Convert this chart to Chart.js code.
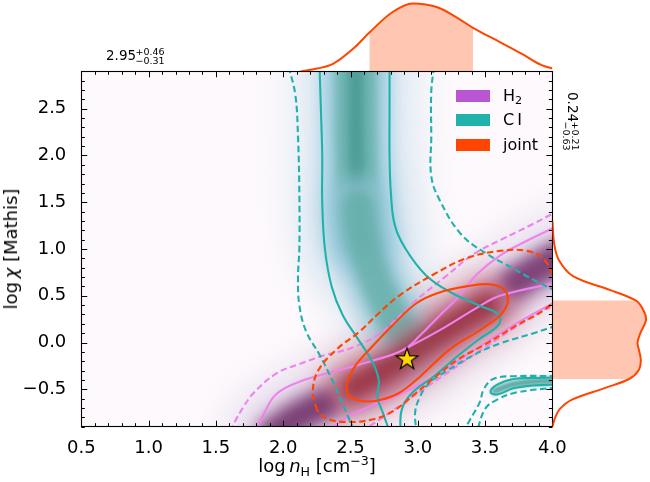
<!DOCTYPE html>
<html>
<head>
<meta charset="utf-8">
<script src="https://cdn.jsdelivr.net/npm/chart.js@4.4.1/dist/chart.umd.min.js"></script>
<style>
  html, body { margin: 0; padding: 0; background: #fff; }
  #wrap { position: relative; width: 650px; height: 482px; overflow: hidden;
          font-family: 'DejaVu Sans', sans-serif; color: #000; }
  .box { position: absolute; }
  .txt { position: absolute; white-space: nowrap; }
  sub { font-size: 70%; vertical-align: -0.28em; line-height: 0; }
  sup { font-size: 70%; vertical-align: 0.55em; line-height: 0; }
  .patch { position: absolute; width: 34px; height: 12px; }
</style>
</head>
<body>
<div id="wrap">
  <div class="box" style="left:0;top:0;width:650px;height:482px"><canvas id="main"></canvas></div>
  <div class="box" style="left:0;top:0;width:650px;height:72px"><canvas id="top"></canvas></div>
  <div class="box" style="left:552px;top:0;width:98px;height:482px"><canvas id="side"></canvas></div>

  <div class="txt" id="xlab" style="left:317px;top:457px;font-size:18px;line-height:18px;transform:translateX(-50%)">log&#8201;<i>n</i><sub>H</sub> [cm<sup>&minus;3</sup>]</div>
  <div class="txt" id="ylab" style="left:11px;top:249px;font-size:18px;line-height:18px;transform:translate(-50%,-50%) rotate(-90deg)">log&#8201;<i>&chi;</i> [Mathis]</div>

  <div id="legend"></div>
  <div id="annTop"></div>
  <div id="annSide" class="box" style="left:590px;top:92px;transform-origin:0 0;transform:rotate(90deg)"></div>
</div>

<script>
// 통계값 (중앙값, +오차, -오차)
const nMed = 2.95, nUp = 0.46, nLo = 0.31;
const chiMed = 0.24, chiUp = 0.21, chiLo = 0.63;

// 축 범위와 눈금
const xRange = [0.5, 4.0];
const yRange = [-0.9, 2.9];
const xTickVals = [0.5, 1.0, 1.5, 2.0, 2.5, 3.0, 3.5, 4.0];
const xTickLabels = ['0.5', '1.0', '1.5', '2.0', '2.5', '3.0', '3.5', '4.0'];
const yTickVals = [-0.5, 0.0, 0.5, 1.0, 1.5, 2.0, 2.5];
const yTickLabels = ['\u22120.5', '0.0', '0.5', '1.0', '1.5', '2.0', '2.5'];
const minorStep = 0.1;

// 범례
const legendLabels = ['H<sub>2</sub>', 'C&#8201;I', 'joint'];
const legendColors = ['#BA55D3', '#20B2AA', '#FF4500'];

// 위쪽 주변분포 (log nH, 밀도)
const topX = [2.13, 2.25, 2.37, 2.53, 2.64, 2.81, 2.96, 3.15, 3.30, 3.41, 3.61, 3.77, 3.92, 4.00];
const topD = [0.00, 0.04, 0.11, 0.35, 0.57, 0.87, 1.00, 0.94, 0.78, 0.64, 0.43, 0.26, 0.09, 0.04];

// 오른쪽 주변분포 (log chi, 밀도)
const sideY = [-0.90, -0.80, -0.71, -0.61, -0.49, -0.39, -0.30, -0.19, -0.08, 0.00, 0.10, 0.24, 0.35, 0.45, 0.56, 0.71, 0.88, 1.05, 1.30];
const sideD = [0.00, 0.03, 0.08, 0.21, 0.55, 0.82, 0.92, 0.945, 0.925, 0.91, 0.94, 1.00, 0.97, 0.89, 0.62, 0.22, 0.07, 0.02, 0.00];

// 밀도 능선 (x, y)
const h2Ridge = [[1.92,-0.98],[2.10,-0.80],[2.30,-0.66],[2.60,-0.47],[2.90,-0.22],[3.20,0.08],[3.50,0.38],[3.75,0.63],[4.05,0.90]];
const h2LobeLow = [[1.93,-0.97],[2.12,-0.79],[2.32,-0.65]];
const h2LobeHigh = [[3.72,0.64],[3.88,0.78],[4.05,0.92]];
const ciRidgeUpper = [[2.54,3.00],[2.54,2.30],[2.55,1.70],[2.56,1.35],[2.58,1.12]];
const ciRidgeLower = [[2.56,1.45],[2.58,1.20],[2.62,0.95],[2.70,0.62],[2.80,0.32],[2.90,0.08]];
const ciTongueRidge = [[3.57,-0.52],[3.70,-0.45],[3.85,-0.42],[4.05,-0.41]];
const jointRidge = [[2.52,-0.48],[2.75,-0.30],[2.98,-0.08],[3.22,0.15],[3.52,0.40]];

// 등고선 C I
const ciSolidLeft = [[2.27,2.95],[2.28,2.5],[2.29,2.0],[2.29,1.5],[2.31,1.0],[2.36,0.6],[2.44,0.3],[2.55,0.05],[2.66,-0.2],[2.71,-0.4],[2.70,-0.58],[2.74,-0.75],[2.79,-0.95]];
const ciSolidRight = [[2.79,2.95],[2.79,2.5],[2.79,2.0],[2.80,1.6],[2.83,1.25],[2.91,1.0],[3.06,0.72],[3.24,0.54],[3.45,0.40],[3.60,0.30],[3.60,0.19],[3.45,0.03],[3.30,-0.14],[3.12,-0.36],[2.95,-0.55],[2.88,-0.72],[2.87,-0.95]];
const ciTongue = [[4.03,-0.375],[3.85,-0.38],[3.71,-0.39],[3.59,-0.45],[3.54,-0.53],[3.59,-0.555],[3.71,-0.49],[3.85,-0.46],[4.03,-0.45]];
const ciDashLeft = [[2.04,2.95],[2.09,2.65],[2.11,2.2],[2.12,1.6],[2.12,1.0],[2.11,0.7],[2.12,0.4],[2.17,0.12],[2.27,-0.13],[2.36,-0.39],[2.43,-0.62],[2.53,-0.95]];
const ciDashRight = [[3.12,2.95],[3.10,2.68],[3.10,2.2],[3.10,1.78],[3.16,1.53],[3.32,1.16],[3.50,0.96],[3.71,0.79],[3.86,0.67],[4.03,0.55]];
const ciDashLower = [[4.03,0.18],[3.86,0.10],[3.61,-0.01],[3.42,-0.13],[3.22,-0.30],[3.08,-0.44],[3.01,-0.60],[2.98,-0.75],[2.99,-0.95]];
const ciDashTongueOut = [[4.03,-0.36],[3.71,-0.36],[3.56,-0.39],[3.49,-0.50],[3.46,-0.64],[3.39,-0.82],[3.34,-0.95]];
const ciDashTongueIn = [[4.03,-0.48],[3.73,-0.535],[3.59,-0.61],[3.50,-0.71],[3.44,-0.95]];

// 등고선 H2
const h2DashUpper = [[1.61,-0.95],[1.64,-0.85],[1.70,-0.70],[1.78,-0.54],[1.95,-0.33],[2.12,-0.23],[2.30,-0.14],[2.52,-0.05],[2.72,0.10],[2.97,0.43],[3.21,0.71],[3.42,0.95],[3.62,1.10],[3.86,1.27],[4.03,1.40]];
const h2SolidUpper = [[1.79,-0.95],[1.86,-0.75],[1.95,-0.55],[2.12,-0.42],[2.40,-0.30],[2.65,-0.20],[2.89,-0.08],[3.02,0.08],[3.17,0.30],[3.31,0.50],[3.44,0.73],[3.61,0.93],[3.80,1.08],[4.03,1.24]];
const h2SolidMid = [[2.89,-0.08],[3.16,0.13],[3.46,0.39],[3.61,0.50],[4.03,0.64]];
const h2SolidLower = [[2.33,-0.95],[2.47,-0.80],[2.65,-0.68],[2.84,-0.57],[3.09,-0.39],[3.46,-0.04],[3.75,0.22],[4.03,0.44]];
const h2DashLower = [[2.58,-0.95],[2.72,-0.82],[2.88,-0.66],[3.09,-0.45],[3.50,-0.05],[3.91,0.33],[4.03,0.40]];

// 등고선 joint
const jointSolid = [[2.47,-0.44],[2.53,-0.26],[2.67,-0.03],[2.81,0.18],[2.99,0.42],[3.15,0.53],[3.36,0.60],[3.55,0.62],[3.66,0.53],[3.64,0.34],[3.48,0.15],[3.24,-0.07],[3.02,-0.36],[2.86,-0.54],[2.70,-0.62],[2.56,-0.62],[2.48,-0.55],[2.47,-0.44]];
const jointDash = [[2.25,-0.72],[2.22,-0.53],[2.26,-0.30],[2.40,-0.07],[2.57,0.12],[2.70,0.30],[2.87,0.51],[3.12,0.73],[3.36,0.90],[3.61,0.98],[3.81,0.98],[3.93,0.90],[4.00,0.72],[4.03,0.50],[3.95,0.36],[3.73,0.18],[3.50,-0.02],[3.30,-0.18],[3.12,-0.38],[2.97,-0.56],[2.82,-0.73],[2.67,-0.82],[2.47,-0.85],[2.32,-0.81],[2.25,-0.72]];

// 최적점
const bestPoint = [2.92, -0.18];

// ---------------------------------------------------------------
Chart.defaults.font.family = "'DejaVu Sans', sans-serif";
Chart.defaults.color = '#000';

const toXY = (pts) => pts.map(p => ({x: p[0], y: p[1]}));

function band(pts, color, width, blur) {
  return {
    data: toXY(pts), showLine: true, borderColor: color, borderWidth: width,
    pointRadius: 0, tension: 0.4, borderCapStyle: 'round', borderJoinStyle: 'round',
    fill: false, blur: blur
  };
}
function contour(pts, color, dashed) {
  return {
    data: toXY(pts), showLine: true, borderColor: color, borderWidth: 2.1,
    borderDash: dashed ? [6.5, 3.5] : [], pointRadius: 0, tension: 0.4, fill: false
  };
}

// 별 모양 마커
const star = document.createElement('canvas');
star.width = 28; star.height = 28;
(function () {
  const c = star.getContext('2d');
  const R = 11.4, r = 4.5;
  c.beginPath();
  for (let i = 0; i < 10; i++) {
    const rad = (i % 2 === 0 ? R : r);
    const ang = -Math.PI / 2 + i * Math.PI / 5;
    c.lineTo(14 + rad * Math.cos(ang), 14 + rad * Math.sin(ang));
  }
  c.closePath();
  c.fillStyle = '#FFD700';
  c.fill();
  c.lineWidth = 1.2;
  c.strokeStyle = '#000';
  c.stroke();
})();

const violet = '#EE82EE', teal = '#20B2AA', orange = '#FF4500';

// 아래에서 위로 그리는 순서
const paintOrder = [
  band(h2Ridge, 'rgba(205,190,220,0.40)', 95, 16),
  band(ciRidgeUpper, 'rgba(200,222,236,0.55)', 125, 18),
  band(ciRidgeLower, 'rgba(200,222,236,0.45)', 95, 16),
  band(jointRidge, 'rgba(228,175,185,0.45)', 82, 14),
  band(h2Ridge, 'rgba(150,80,140,0.55)', 40, 9),
  band(h2LobeLow, 'rgba(100,38,95,0.75)', 26, 7),
  band(h2LobeHigh, 'rgba(105,42,100,0.75)', 28, 7),
  band(ciRidgeUpper, 'rgba(160,206,224,0.9)', 72, 8),
  band(ciRidgeUpper, 'rgba(105,178,174,0.95)', 42, 5),
  band(ciRidgeUpper, 'rgba(78,156,151,0.9)', 16, 3),
  band(ciRidgeLower, 'rgba(150,200,218,0.75)', 60, 9),
  band(ciRidgeLower, 'rgba(98,172,166,0.8)', 34, 6),
  band(ciTongueRidge, 'rgba(70,160,155,0.95)', 7, 2),
  band(jointRidge, 'rgba(195,100,115,0.6)', 52, 10),
  band(jointRidge, 'rgba(150,48,62,0.85)', 24, 7),

  contour(h2DashUpper, violet, true),
  contour(h2DashLower, violet, true),
  contour(h2SolidUpper, violet, false),
  contour(h2SolidMid, violet, false),
  contour(h2SolidLower, violet, false),

  contour(ciDashLeft, teal, true),
  contour(ciDashRight, teal, true),
  contour(ciDashLower, teal, true),
  contour(ciDashTongueOut, teal, true),
  contour(ciDashTongueIn, teal, true),
  contour(ciSolidLeft, teal, false),
  contour(ciSolidRight, teal, false),
  contour(ciTongue, teal, false),

  contour(jointDash, orange, true),
  contour(jointSolid, orange, false),

  { data: [{x: bestPoint[0], y: bestPoint[1]}], pointStyle: star, pointRadius: 10, showLine: false }
];

const framePlugin = {
  id: 'frame',
  beforeDraw(chart) {
    const {ctx, chartArea: a} = chart;
    ctx.save();
    ctx.fillStyle = 'rgb(253,249,252)';
    ctx.fillRect(a.left, a.top, a.right - a.left, a.bottom - a.top);
    ctx.restore();
  },
  beforeDatasetDraw(chart, args) {
    const b = chart.data.datasets[args.index].blur;
    if (b) { chart.ctx.save(); chart.ctx.filter = 'blur(' + b + 'px)'; }
  },
  afterDatasetDraw(chart, args) {
    if (chart.data.datasets[args.index].blur) chart.ctx.restore();
  },
  afterDatasetsDraw(chart) {
    const {ctx, chartArea: a, scales} = chart;
    const sx = scales.x, sy = scales.y;
    ctx.save();
    ctx.strokeStyle = '#000';
    ctx.lineWidth = 1;
    ctx.beginPath();
    const nx = Math.round((xRange[1] - xRange[0]) / minorStep);
    for (let i = 0; i <= nx; i++) {
      const v = xRange[0] + i * minorStep;
      const major = xTickVals.some(t => Math.abs(t - v) < 1e-6);
      const len = major ? 6 : 3.5;
      const p = Math.round(sx.getPixelForValue(v)) + 0.5;
      ctx.moveTo(p, a.bottom); ctx.lineTo(p, a.bottom - len);
      ctx.moveTo(p, a.top); ctx.lineTo(p, a.top + len);
    }
    const ny = Math.round((yRange[1] - yRange[0]) / minorStep);
    for (let i = 0; i <= ny; i++) {
      const v = yRange[0] + i * minorStep;
      const major = yTickVals.some(t => Math.abs(t - v) < 1e-6);
      const len = major ? 6 : 3.5;
      const p = Math.round(sy.getPixelForValue(v)) + 0.5;
      ctx.moveTo(a.left, p); ctx.lineTo(a.left + len, p);
      ctx.moveTo(a.right, p); ctx.lineTo(a.right - len, p);
    }
    ctx.stroke();
    ctx.lineWidth = 1.1;
    ctx.strokeRect(Math.round(a.left) + 0.5, Math.round(a.top) + 0.5,
                   Math.round(a.right - a.left), Math.round(a.bottom - a.top));
    ctx.restore();
  }
};

new Chart(document.getElementById('main'), {
  type: 'scatter',
  data: { datasets: paintOrder.slice().reverse() },
  options: {
    responsive: true, maintainAspectRatio: false, animation: false, events: [],
    layout: { padding: { top: 71.3, right: 97.6, left: 0, bottom: 0 } },
    elements: { line: { capBezierPoints: false } },
    plugins: { legend: { display: false }, tooltip: { enabled: false } },
    scales: {
      x: {
        type: 'linear', min: xRange[0], max: xRange[1],
        grid: { display: false }, border: { display: false },
        afterBuildTicks: (s) => { s.ticks = xTickVals.map(v => ({value: v})); },
        afterFit: (s) => { s.height = 55.3; },
        ticks: { autoSkip: false, maxRotation: 0, padding: 3, font: { size: 18 },
                 callback: (v, i) => xTickLabels[i] }
      },
      y: {
        type: 'linear', min: yRange[0], max: yRange[1],
        grid: { display: false }, border: { display: false },
        afterBuildTicks: (s) => { s.ticks = yTickVals.map(v => ({value: v})); },
        afterFit: (s) => { s.width = 81.3; },
        ticks: { autoSkip: false, padding: 7, font: { size: 18 },
                 callback: (v, i) => yTickLabels[i] }
      }
    }
  },
  plugins: [framePlugin]
});

// 위쪽 주변분포
const topCurve = topX.map((x, i) => ({x: x, y: topD[i]}));
const topFill = topCurve.filter(p => p.x >= nMed - nLo - 1e-6 && p.x <= nMed + nUp + 1e-6);
new Chart(document.getElementById('top'), {
  type: 'line',
  data: {
    datasets: [
      { data: topCurve, borderColor: orange, borderWidth: 2, pointRadius: 0,
        cubicInterpolationMode: 'monotone', fill: false },
      { data: topFill, borderWidth: 0, borderColor: 'rgba(0,0,0,0)', pointRadius: 0,
        cubicInterpolationMode: 'monotone', fill: 'origin', backgroundColor: 'rgba(255,69,0,0.3)' }
    ]
  },
  options: {
    responsive: true, maintainAspectRatio: false, animation: false, events: [],
    layout: { padding: { left: 81.3, right: 97.6, top: 0, bottom: 0.7 } },
    plugins: { legend: { display: false }, tooltip: { enabled: false } },
    scales: {
      x: { type: 'linear', display: false, min: xRange[0], max: xRange[1] },
      y: { type: 'linear', display: false, min: 0, max: 1.05 }
    }
  }
});

// 오른쪽 주변분포
const sideCurve = sideY.map((y, i) => ({x: sideD[i], y: y}));
const sideIn = sideCurve.filter(p => p.y >= chiMed - chiLo - 1e-6 && p.y <= chiMed + chiUp + 1e-6);
const sideFill = [{x: 0, y: sideIn[0].y}].concat(sideIn, [{x: 0, y: sideIn[sideIn.length - 1].y}]);
new Chart(document.getElementById('side'), {
  type: 'line',
  data: {
    datasets: [
      { data: sideCurve, borderColor: orange, borderWidth: 2, pointRadius: 0,
        tension: 0.35, fill: false },
      { data: sideFill, borderWidth: 0, borderColor: 'rgba(0,0,0,0)', pointRadius: 0,
        tension: 0, fill: 'shape', backgroundColor: 'rgba(255,69,0,0.3)' }
    ]
  },
  options: {
    responsive: true, maintainAspectRatio: false, animation: false, events: [],
    layout: { padding: { left: 0.4, right: 0, top: 71.3, bottom: 55.3 } },
    plugins: { legend: { display: false }, tooltip: { enabled: false } },
    elements: { line: { capBezierPoints: false } },
    scales: {
      x: { type: 'linear', display: false, min: 0, max: 1.043 },
      y: { type: 'linear', display: false, min: yRange[0], max: yRange[1] }
    }
  }
});

// 범례 (HTML)
const legend = document.getElementById('legend');
legendLabels.forEach((lab, i) => {
  const top = 89.5 + i * 24.5;
  const p = document.createElement('div');
  p.className = 'patch';
  p.style.left = '456px';
  p.style.top = top + 'px';
  p.style.background = legendColors[i];
  legend.appendChild(p);
  const t = document.createElement('div');
  t.className = 'txt';
  t.style.left = '503px';
  t.style.top = (top + 6 - 7.7) + 'px';
  t.style.fontSize = '16px';
  t.style.lineHeight = '16px';
  t.innerHTML = lab;
  legend.appendChild(t);
});

// 주석 (중앙값과 오차)
const fmt = (v) => v.toFixed(2);
function putText(parent, text, left, top, size) {
  const d = document.createElement('div');
  d.className = 'txt';
  d.style.left = left + 'px';
  d.style.top = top + 'px';
  d.style.fontSize = size + 'px';
  d.style.lineHeight = size + 'px';
  d.textContent = text;
  parent.appendChild(d);
}
const annTop = document.getElementById('annTop');
putText(annTop, fmt(nMed), 106, 49.3, 13.5);
putText(annTop, '+' + fmt(nUp), 135.5, 47, 9.5);
putText(annTop, '\u2212' + fmt(nLo), 135.5, 56, 9.5);

const annSide = document.getElementById('annSide');
putText(annSide, fmt(chiMed), 0, 11.1, 13.5);
putText(annSide, '+' + fmt(chiUp), 29.5, 10, 9.5);
putText(annSide, '\u2212' + fmt(chiLo), 29.5, 19, 9.5);
</script>
</body>
</html>
